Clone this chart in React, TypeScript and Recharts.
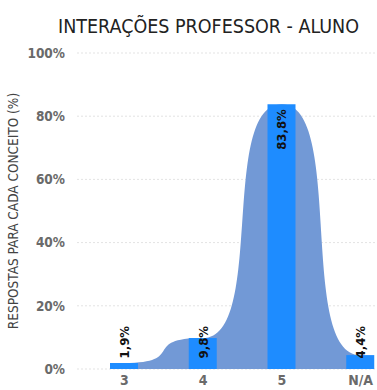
import { ComposedChart, Area, Bar, XAxis, YAxis, CartesianGrid, LabelList } from "recharts";

const categories = ["3", "4", "5", "N/A"];
const percents = [1.9, 9.8, 83.8, 4.4];
const yTicks = [0, 20, 40, 60, 80, 100];

const FONT = "'DejaVu Sans Condensed', 'DejaVu Sans', sans-serif";

const data = categories.map((c, i) => ({ cat: c, value: percents[i] }));

// like d3 curveBumpX but with the handles pushed further out,
// so each point gets a flat shoulder and the transitions are steeper
function plateauCurve(context: any) {
  const T = 0.8;
  let line = NaN;
  let pt = 0;
  let x0 = 0;
  let y0 = 0;
  return {
    areaStart() {
      line = 0;
    },
    areaEnd() {
      line = NaN;
    },
    lineStart() {
      pt = 0;
    },
    lineEnd() {
      if (line || (line !== 0 && pt === 1)) context.closePath();
      line = 1 - line;
    },
    point(x: number, y: number) {
      x = +x;
      y = +y;
      if (pt === 0) {
        pt = 1;
        if (line) context.lineTo(x, y);
        else context.moveTo(x, y);
      } else {
        const dx = x - x0;
        context.bezierCurveTo(x0 + T * dx, y0, x - T * dx, y, x, y);
      }
      x0 = x;
      y0 = y;
    },
  };
}

// rotated label, pinned near the bar top, but kept in the lower zone for small bars
function BarLabel(props: any) {
  const { x, y, width, height, value } = props;
  const cx = x + width / 2 + 5;
  const bottom = y + height;
  const top = Math.min(y + 5, bottom - 43);
  return (
    <text
      x={cx}
      y={top}
      transform={`rotate(-90 ${cx} ${top})`}
      textAnchor="end"
      fontSize={13}
      fontWeight="bold"
      fontFamily={FONT}
      fill="#111"
    >
      {String(value).replace(".", ",") + "%"}
    </text>
  );
}

export default function App() {
  return (
    <div style={{ width: 377, height: 390, overflow: "hidden", position: "relative", background: "#fff" }}>
      <style>{"html,body{margin:0;padding:0;overflow:hidden}"}</style>
      <div
        style={{
          position: "absolute",
          top: 15,
          left: 58,
          fontFamily: FONT,
          fontSize: 19.5,
          color: "#222",
          whiteSpace: "nowrap",
        }}
      >
        INTERAÇÕES PROFESSOR - ALUNO
      </div>
      <ComposedChart width={400} height={390} data={data} margin={{ top: 53, right: 0, bottom: 0, left: 0 }}>
        <CartesianGrid vertical={false} stroke="#e3e3e3" strokeDasharray="2 2" />
        <XAxis
          dataKey="cat"
          height={21}
          axisLine={false}
          tickLine={false}
          padding={{ left: 8, right: 0 }}
          tick={{ fontSize: 14, fontWeight: "bold", fill: "#6a6a6a", fontFamily: FONT }}
          tickMargin={0}
        />
        <YAxis
          width={77}
          domain={[0, 100]}
          ticks={yTicks}
          tickFormatter={(v) => `${v}%`}
          axisLine={false}
          tickLine={false}
          tickMargin={6}
          tick={{ fontSize: 13.5, fontWeight: "bold", fill: "#6a6a6a", fontFamily: FONT }}
          label={{
            value: "RESPOSTAS PARA CADA CONCEITO (%)",
            angle: -90,
            position: "insideLeft",
            offset: 13,
            style: { textAnchor: "middle", fontSize: 13.5, fill: "#444", fontFamily: FONT },
          }}
        />
        <Area
          type={plateauCurve as any}
          dataKey="value"
          stroke="none"
          fill="#7299d6"
          fillOpacity={1}
          isAnimationActive={false}
        />
        <Bar dataKey="value" barSize={28} fill="#1e8cff" isAnimationActive={false}>
          <LabelList dataKey="value" content={<BarLabel />} />
        </Bar>
      </ComposedChart>
    </div>
  );
}
